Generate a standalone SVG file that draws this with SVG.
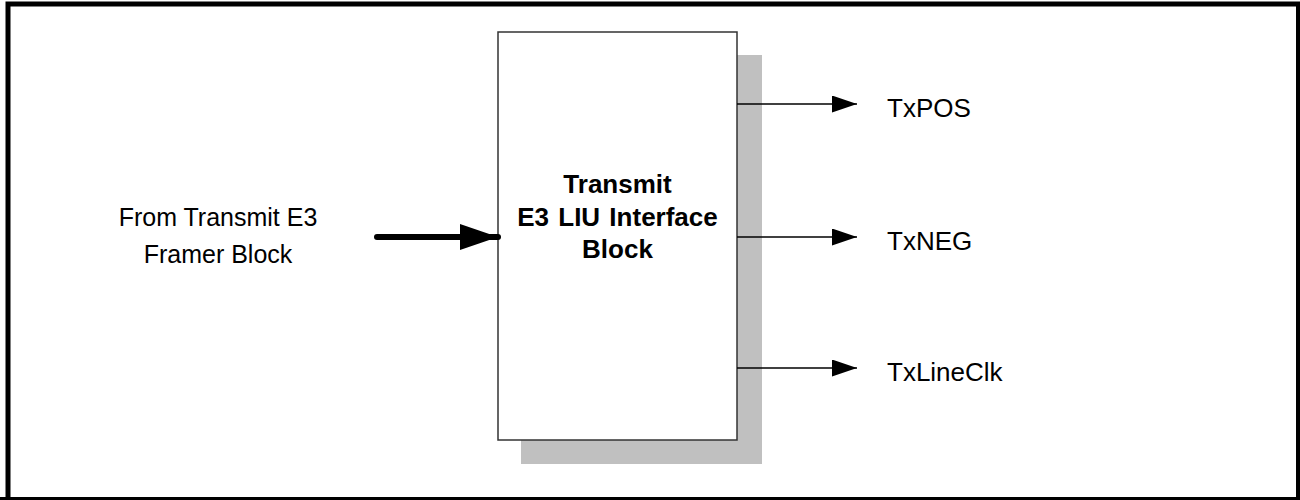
<svg xmlns="http://www.w3.org/2000/svg" width="1300" height="500" viewBox="0 0 1300 500">
  <style>
    .lbl { font-family: "Liberation Sans", Arial, sans-serif; font-size: 25px; fill: #000; }
    .out { font-family: "Liberation Sans", Arial, sans-serif; font-size: 26px; fill: #000; }
    .bold { font-family: "Liberation Sans", Arial, sans-serif; font-size: 26px; font-weight: bold; fill: #000; }
    .wire { stroke: #000; stroke-width: 1.5; fill: none; }
  </style>
  <defs>
    <marker id="ah" markerUnits="userSpaceOnUse" markerWidth="26" markerHeight="18" refX="25" refY="8.5" orient="auto">
      <path d="M0,0 L25,8.5 L0,17 Z" fill="#000"/>
    </marker>
    <marker id="ahBig" markerUnits="userSpaceOnUse" markerWidth="40" markerHeight="28" refX="38" refY="13" orient="auto">
      <path d="M0,0 L38,13 L0,26 Z" fill="#000"/>
    </marker>
  </defs>
  <rect x="0" y="0" width="1300" height="500" fill="#fff"/>
  <path d="M8,500 L8,4 L1298.5,4 L1298.5,499" fill="none" stroke="#000" stroke-width="5"/>
  <line x1="0" y1="498.5" x2="1300" y2="498.5" stroke="#000" stroke-width="3"/>

  <g id="block">
    <rect x="521" y="55" width="241" height="409" fill="#c0c0c0"/>
    <rect x="498" y="32" width="239" height="408" fill="#fff" stroke="#333" stroke-width="1.5"/>
    <text class="bold" x="617.5" y="193" text-anchor="middle">Transmit</text>
    <text class="bold" x="617.5" y="226" text-anchor="middle" word-spacing="2">E3 LIU Interface</text>
    <text class="bold" x="617.5" y="258" text-anchor="middle">Block</text>
  </g>

  <g id="source">
    <text class="lbl" x="218" y="226" text-anchor="middle">From Transmit E3</text>
    <text class="lbl" x="218" y="263" text-anchor="middle">Framer Block</text>
  </g>

  <g id="txpos"><text class="out" x="887" y="117">TxPOS</text></g>
  <g id="txneg"><text class="out" x="887" y="250">TxNEG</text></g>
  <g id="txlineclk"><text class="out" x="887" y="381">TxLineClk</text></g>

  <g id="connectors">
    <line x1="377" y1="237" x2="498" y2="237" stroke="#000" stroke-width="6" stroke-linecap="round" marker-end="url(#ahBig)"/>
    <line class="wire" x1="737" y1="104" x2="857" y2="104" marker-end="url(#ah)"/>
    <line class="wire" x1="737" y1="237" x2="857" y2="237" marker-end="url(#ah)"/>
    <line class="wire" x1="737" y1="368" x2="857" y2="368" marker-end="url(#ah)"/>
  </g>
</svg>
